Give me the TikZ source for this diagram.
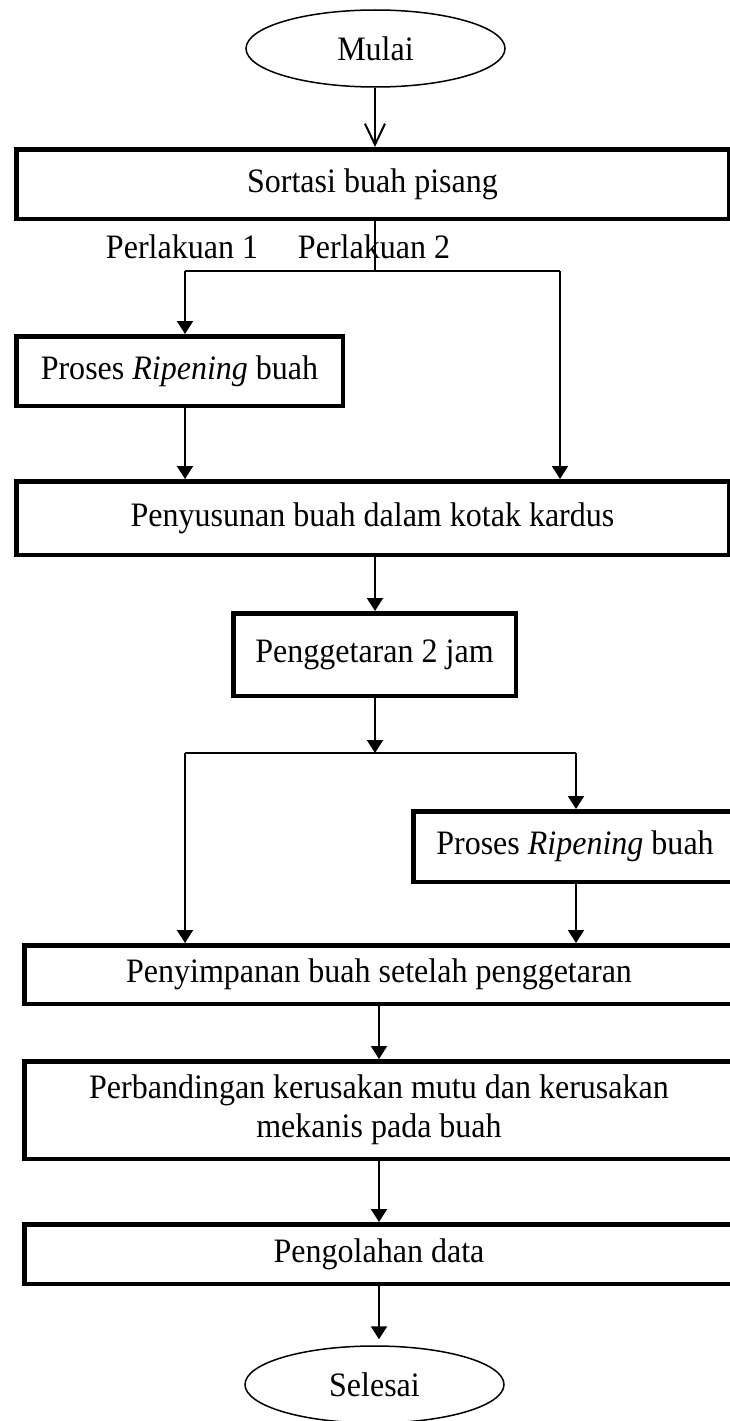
\documentclass[tikz,border=0pt]{standalone}
\usepackage{fontspec}
\setmainfont{Liberation Serif}[Scale=1.07, FakeStretch=0.935]
\usetikzlibrary{arrows.meta,shapes.geometric}
\begin{document}
\begin{tikzpicture}[x=1pt,y=-1pt,
  font=\fontsize{32}{39}\selectfont,
  box/.style={draw, line width=4.5pt, inner sep=0pt, outer sep=2.25pt, align=center},
  term/.style={draw, ellipse, line width=1.5pt, inner sep=0pt, outer sep=0.75pt, minimum width=259pt, minimum height=77pt},
  conn/.style={line width=2pt},
  arr/.style={conn, -{Triangle[length=13pt,width=16pt]}},
  openarr/.style={conn, -{Straight Barb[length=21pt,width=20pt,line width=2pt]}},
  lbl/.style={inner sep=0pt}]
\path[use as bounding box, clip] (0,0) rectangle (730,1421);
\fill[white] (0,0) rectangle (730,1421);

\node[term] (mulai) at (375.5,48.5) {Mulai};
\node[box, minimum width=712.5pt, minimum height=69.5pt] (sortasi) at (372.5,184) {Sortasi buah pisang};
\node[lbl] (p1) at (182,247) {Perlakuan 1};
\node[lbl] (p2) at (374,247) {Perlakuan 2};
\node[box, minimum width=326.5pt, minimum height=69.5pt] (rip1) at (179.5,371) {Proses \textit{Ripening} buah};
\node[box, minimum width=712.5pt, minimum height=73.5pt] (susun) at (372.5,518) {Penyusunan buah dalam kotak kardus};
\node[box, minimum width=282.5pt, minimum height=82.5pt] (getar) at (374.5,654.5) {Penggetaran 2 jam};
\node[box, minimum width=323.5pt, minimum height=70.5pt] (rip2) at (575,846.5) {Proses \textit{Ripening} buah};
\node[box, minimum width=709.5pt, minimum height=58.5pt] (simpan) at (379,974.5) {Penyimpanan buah setelah penggetaran};
\node[box, minimum width=709.5pt, minimum height=97.5pt] (banding) at (379,1110) {Perbandingan kerusakan mutu dan kerusakan\\mekanis pada buah};
\node[box, minimum width=709.5pt, minimum height=59.5pt] (olah) at (379,1254) {Pengolahan data};
\node[term] (selesai) at (374.5,1384.5) {Selesai};

\coordinate (j1) at (375,271);
\coordinate (j1l) at (185,271);
\coordinate (j1r) at (560,271);
\coordinate (j2) at (375,753);
\coordinate (j2l) at (185,753);
\coordinate (j2r) at (576,753);

\draw[openarr] (mulai.south -| j1) -- (sortasi.north -| j1);
\draw[conn] (sortasi.south -| j1) -- (j1);
\draw[conn] (j1l) -- (j1r);
\draw[arr] (j1l) -- (j1l |- rip1.north);
\draw[arr] (j1r) -- (j1r |- susun.north);
\draw[arr] (rip1.south -| j1l) -- (j1l |- susun.north);
\draw[arr] (susun.south -| j2) -- (getar.north -| j2);
\draw[arr] (getar.south -| j2) -- (j2);
\draw[conn] (j2l) -- (j2r);
\draw[arr] (j2r) -- (j2r |- rip2.north);
\draw[arr] (j2l) -- (j2l |- simpan.north);
\draw[arr] (rip2.south -| j2r) -- (j2r |- simpan.north);
\draw[arr] (simpan.south) -- (banding.north);
\draw[arr] (banding.south) -- (olah.north);
\draw[arr] (olah.south) -- ([yshift=6pt]olah.south |- selesai.north);
\end{tikzpicture}
\end{document}
